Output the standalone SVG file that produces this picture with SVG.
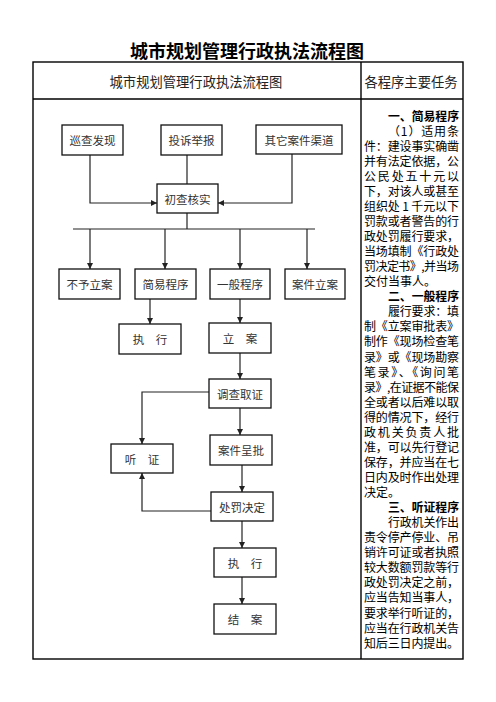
<svg xmlns="http://www.w3.org/2000/svg" width="496" height="702" viewBox="0 0 496 702">
<style>
.box{fill:#fff;stroke:#111;stroke-width:1.3}
.bt{font-family:"Noto Sans CJK SC","Liberation Serif",serif;font-size:11.5px;fill:#333;text-anchor:middle;dominant-baseline:central}
.ln{fill:none;stroke:#222;stroke-width:1.2}
.tb{fill:none;stroke:#000;stroke-width:1.4}
.rt{font-family:"Noto Sans CJK SC","Liberation Sans",sans-serif;font-size:12px;fill:#000;dominant-baseline:central}
.rb{font-weight:bold}
</style>
<defs>
<marker id="ar" markerUnits="userSpaceOnUse" markerWidth="6" markerHeight="6" refX="6" refY="3" orient="auto">
<path d="M0,0 L6,3 L0,6 z" fill="#222"/>
</marker>
</defs>
<rect width="496" height="702" fill="#fff"/>
<text x="247" y="50" font-family="'Noto Sans CJK SC',sans-serif" font-size="18" font-weight="bold" text-anchor="middle" dominant-baseline="central">城市规划管理行政执法流程图</text>
<g id="table">
<rect class="tb" x="33" y="62" width="430" height="597"/>
<line class="tb" x1="33" y1="99" x2="463" y2="99"/>
<line class="tb" x1="361" y1="62" x2="361" y2="659"/>
<text x="196" y="81" font-family="'Noto Sans CJK SC',sans-serif" font-size="13.3" fill="#222" text-anchor="middle" dominant-baseline="central">城市规划管理行政执法流程图</text>
<text x="411" y="81" font-family="'Noto Sans CJK SC',sans-serif" font-size="13.3" fill="#222" text-anchor="middle" dominant-baseline="central">各程序主要任务</text>
</g>
<g id="connectors">
<polyline class="ln" points="90,155 90,203 157,203" marker-end="url(#ar)"/>
<line class="ln" x1="187" y1="155" x2="187" y2="184"/>
<polyline class="ln" points="292,154 292,203 218,203" marker-end="url(#ar)"/>
<line class="ln" x1="187" y1="213" x2="187" y2="229"/>
<line class="ln" x1="73" y1="229" x2="315" y2="229"/>
<line class="ln" x1="90" y1="229" x2="90" y2="269" marker-end="url(#ar)"/>
<line class="ln" x1="165" y1="229" x2="165" y2="269" marker-end="url(#ar)"/>
<line class="ln" x1="240" y1="229" x2="240" y2="269" marker-end="url(#ar)"/>
<line class="ln" x1="307" y1="229" x2="307" y2="269" marker-end="url(#ar)"/>
<line class="ln" x1="150" y1="299" x2="150" y2="324" marker-end="url(#ar)"/>
<line class="ln" x1="240" y1="299" x2="240" y2="323" marker-end="url(#ar)"/>
<line class="ln" x1="240" y1="353" x2="240" y2="379" marker-end="url(#ar)"/>
<polyline class="ln" points="209,392 142,392 142,444" marker-end="url(#ar)"/>
<line class="ln" x1="240" y1="408" x2="240" y2="435" marker-end="url(#ar)"/>
<line class="ln" x1="242" y1="465" x2="242" y2="492" marker-end="url(#ar)"/>
<polyline class="ln" points="211,511 142,511 142,473" marker-end="url(#ar)"/>
<line class="ln" x1="242" y1="521" x2="242" y2="548" marker-end="url(#ar)"/>
<line class="ln" x1="242" y1="577" x2="242" y2="604" marker-end="url(#ar)"/>
</g>
<g id="n1"><rect class="box" x="62" y="125" width="61" height="30"/><text class="bt" x="92.5" y="140">巡查发现</text></g>
<g id="n2"><rect class="box" x="161" y="125" width="61" height="30"/><text class="bt" x="191.5" y="140">投诉举报</text></g>
<g id="n3"><rect class="box" x="256" y="125" width="86" height="29"/><text class="bt" x="299" y="139.5">其它案件渠道</text></g>
<g id="n4"><rect class="box" x="157" y="184" width="61" height="29"/><text class="bt" x="187.5" y="198.5">初查核实</text></g>
<g id="n5"><rect class="box" x="59" y="269" width="61" height="30"/><text class="bt" x="89.5" y="284">不予立案</text></g>
<g id="n6"><rect class="box" x="135" y="269" width="61" height="30"/><text class="bt" x="165.5" y="284">简易程序</text></g>
<g id="n7"><rect class="box" x="210" y="269" width="60" height="30"/><text class="bt" x="240" y="284">一般程序</text></g>
<g id="n8"><rect class="box" x="285" y="269" width="60" height="30"/><text class="bt" x="315" y="284">案件立案</text></g>
<g id="n9"><rect class="box" x="119" y="324" width="62" height="30"/><text class="bt" x="150" y="339">执　行</text></g>
<g id="n10"><rect class="box" x="209" y="323" width="62" height="30"/><text class="bt" x="240" y="338">立　案</text></g>
<g id="n11"><rect class="box" x="209" y="379" width="62" height="29"/><text class="bt" x="240" y="393.5">调查取证</text></g>
<g id="n12"><rect class="box" x="111" y="444" width="62" height="29"/><text class="bt" x="142" y="458.5">听　证</text></g>
<g id="n13"><rect class="box" x="210" y="435" width="62" height="30"/><text class="bt" x="241" y="450">案件呈批</text></g>
<g id="n14"><rect class="box" x="211" y="492" width="62" height="29"/><text class="bt" x="242" y="506.5">处罚决定</text></g>
<g id="n15"><rect class="box" x="214" y="548" width="62" height="29"/><text class="bt" x="245" y="562.5">执　行</text></g>
<g id="n16"><rect class="box" x="214" y="604" width="62" height="30"/><text class="bt" x="245" y="619">结　案</text></g>
<g id="tasks">
<text class="rt rb" x="388" y="115" textLength="71" lengthAdjust="spacingAndGlyphs">一、简易程序</text>
<text class="rt" x="388" y="130.1" textLength="71" lengthAdjust="spacing">（1）适用条</text>
<text class="rt" x="364" y="145.1" textLength="95" lengthAdjust="spacing">件：建设事实确凿</text>
<text class="rt" x="364" y="160.2" textLength="95" lengthAdjust="spacing">并有法定依据，公</text>
<text class="rt" x="364" y="175.2" textLength="95" lengthAdjust="spacing">公民处五十元以</text>
<text class="rt" x="364" y="190.3" textLength="95" lengthAdjust="spacing">下，对该人或甚至</text>
<text class="rt" x="364" y="205.4" textLength="95" lengthAdjust="spacing">组织处 1 千元以下</text>
<text class="rt" x="364" y="220.4" textLength="95" lengthAdjust="spacing">罚款或者警告的行</text>
<text class="rt" x="364" y="235.5" textLength="95" lengthAdjust="spacing">政处罚履行要求，</text>
<text class="rt" x="364" y="250.5" textLength="95" lengthAdjust="spacing">当场填制《行政处</text>
<text class="rt" x="364" y="265.6" textLength="95" lengthAdjust="spacing">罚决定书》,并当场</text>
<text class="rt" x="364" y="280.7">交付当事人。</text>
<text class="rt rb" x="388" y="295.7" textLength="71" lengthAdjust="spacingAndGlyphs">二、一般程序</text>
<text class="rt" x="388" y="310.8" textLength="71" lengthAdjust="spacing">履行要求：填</text>
<text class="rt" x="364" y="325.8" textLength="95" lengthAdjust="spacing">制《立案审批表》</text>
<text class="rt" x="364" y="340.9" textLength="95" lengthAdjust="spacing">制作《现场检查笔</text>
<text class="rt" x="364" y="356" textLength="95" lengthAdjust="spacing">录》或《现场勘察</text>
<text class="rt" x="364" y="371" textLength="95" lengthAdjust="spacing">笔录》、《询问笔</text>
<text class="rt" x="364" y="386.1" textLength="95" lengthAdjust="spacing">录》,在证据不能保</text>
<text class="rt" x="364" y="401.1" textLength="95" lengthAdjust="spacing">全或者以后难以取</text>
<text class="rt" x="364" y="416.2" textLength="95" lengthAdjust="spacing">得的情况下，经行</text>
<text class="rt" x="364" y="431.2" textLength="95" lengthAdjust="spacing">政机关负责人批</text>
<text class="rt" x="364" y="446.3" textLength="95" lengthAdjust="spacing">准，可以先行登记</text>
<text class="rt" x="364" y="461.4" textLength="95" lengthAdjust="spacing">保存，并应当在七</text>
<text class="rt" x="364" y="476.4" textLength="95" lengthAdjust="spacing">日内及时作出处理</text>
<text class="rt" x="364" y="491.5">决定。</text>
<text class="rt rb" x="388" y="506.6" textLength="71" lengthAdjust="spacingAndGlyphs">三、听证程序</text>
<text class="rt" x="388" y="521.6" textLength="71" lengthAdjust="spacing">行政机关作出</text>
<text class="rt" x="364" y="536.7" textLength="95" lengthAdjust="spacing">责令停产停业、吊</text>
<text class="rt" x="364" y="551.7" textLength="95" lengthAdjust="spacing">销许可证或者执照</text>
<text class="rt" x="364" y="566.8" textLength="95" lengthAdjust="spacing">较大数额罚款等行</text>
<text class="rt" x="364" y="581.9" textLength="95" lengthAdjust="spacing">政处罚决定之前，</text>
<text class="rt" x="364" y="596.9" textLength="95" lengthAdjust="spacing">应当告知当事人，</text>
<text class="rt" x="364" y="612" textLength="95" lengthAdjust="spacing">要求举行听证的，</text>
<text class="rt" x="364" y="627" textLength="95" lengthAdjust="spacing">应当在行政机关告</text>
<text class="rt" x="364" y="642.1" textLength="95" lengthAdjust="spacing">知后三日内提出。</text>
</g>
</svg>
